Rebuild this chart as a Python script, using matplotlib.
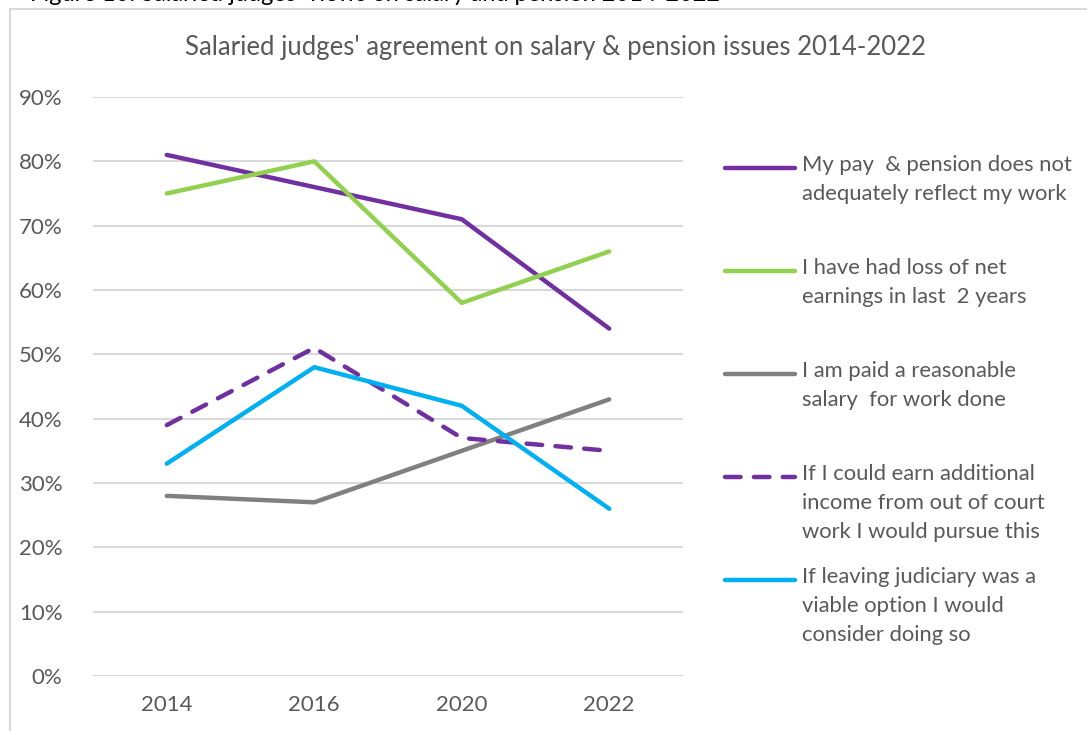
import matplotlib
matplotlib.use("Agg")
import matplotlib.pyplot as plt
from matplotlib.lines import Line2D
from matplotlib.patches import Rectangle
from matplotlib.ticker import PercentFormatter

plt.rcParams["font.family"] = ["Lato", "DejaVu Sans"]

years = ["2014", "2016", "2020", "2022"]
pay_not_adequate = [0.81, 0.76, 0.71, 0.54]
loss_of_earnings = [0.75, 0.80, 0.58, 0.66]
reasonable_salary = [0.28, 0.27, 0.35, 0.43]
extra_income = [0.39, 0.51, 0.37, 0.35]
leave_judiciary = [0.33, 0.48, 0.42, 0.26]

labels = ["My pay  & pension does not\nadequately reflect my work",
          "I have had loss of net\nearnings in last  2 years",
          "I am paid a reasonable\nsalary  for work done",
          "If I could earn additional\nincome from out of court\nwork I would pursue this",
          "If leaving judiciary was a\nviable option I would\nconsider doing so"]

series = [pay_not_adequate, loss_of_earnings, reasonable_salary, extra_income, leave_judiciary]
colors = ["#7030A0", "#92D050", "#808080", "#7030A0", "#00B0F0"]
styles = ["-", "-", "-", (0, (3.5, 3)), "-"]

TXT = "#595959"
W, H = 1087, 731
fig = plt.figure(figsize=(W / 100, H / 100), dpi=100)

# chart frame (cut at right/bottom like a screenshot)
fig.patches.append(Rectangle((10 / W, -0.1), 1.2, 1.1 - 9 / H, transform=fig.transFigure,
                             fill=False, edgecolor="#D9D9D9", lw=1.5))
# caption above the chart, mostly cut off by the top edge as in the screenshot
fig.text(0.028, 1.0 - 1 / H, "Figure 10: Salaried judges' views on salary and pension 2014-2022",
         fontsize=17, color="black", va="baseline", ha="left")

ax = fig.add_axes([93 / W, 1 - 676 / H, (683 - 93) / W, (676 - 97) / H])
x = range(len(years))
for vals, c, ls in zip(series, colors, styles):
    ax.plot(x, vals, color=c, lw=3.2, ls=ls, solid_capstyle="round", dash_capstyle="round")

ax.set_xlim(-0.5, len(years) - 0.5)
ax.set_ylim(0, 0.9)
ax.set_yticks([i / 10 for i in range(10)])
ax.yaxis.set_major_formatter(PercentFormatter(1.0, decimals=0))
ax.set_xticks(list(x))
ax.set_xticklabels(years)
ax.grid(axis="y", color="#D9D9D9", lw=1.5)
ax.set_axisbelow(True)
for s in ax.spines.values():
    s.set_visible(False)
ax.tick_params(length=0, colors=TXT, labelsize=16, pad=14)
ax.tick_params(axis="y", pad=22)

fig.text(555 / W, 1 - 47 / H, "Salaried judges' agreement on salary & pension issues 2014-2022",
         ha="center", va="center", fontsize=18.5, color=TXT)

# legend, handle aligned with the first text line of each entry
for i, (lab, c, ls) in enumerate(zip(labels, colors, styles)):
    yy = 1 - (168 + 103 * i) / H
    fig.add_artist(Line2D([725 / W, 795 / W], [yy, yy], color=c, lw=3.2, ls=ls,
                          solid_capstyle="round", dash_capstyle="round", transform=fig.transFigure))
    fig.text(802 / W, yy + 13 / H, lab, ha="left", va="top", fontsize=15.8, color=TXT, linespacing=1.55)

fig.savefig("out.png", dpi=100)
